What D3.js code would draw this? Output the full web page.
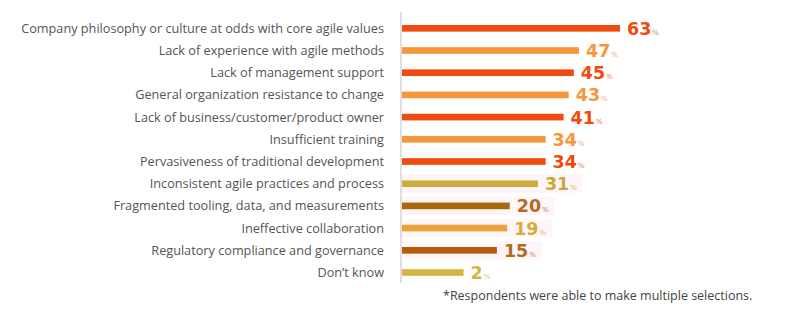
<!DOCTYPE html>
<html><head><meta charset="utf-8">
<script src="https://cdn.jsdelivr.net/npm/d3@7"></script>
<style>
html,body{margin:0;padding:0;background:#fff;}
svg{display:block;}
</style></head>
<body>
<svg id="chart" width="802" height="321"></svg>
<script>
const categories = [
  "Company philosophy or culture at odds with core agile values",
  "Lack of experience with agile methods",
  "Lack of management support",
  "General organization resistance to change",
  "Lack of business/customer/product owner",
  "Insufficient training",
  "Pervasiveness of traditional development",
  "Inconsistent agile practices and process",
  "Fragmented tooling, data, and measurements",
  "Ineffective collaboration",
  "Regulatory compliance and governance",
  "Don\u2019t know"
];
const values = [63, 47, 45, 43, 41, 34, 34, 31, 20, 19, 15, 2];
const barColors = ["#f04b0e","#f7963c","#f04b0e","#f7963c","#f04b0e","#f7963c","#f04b0e","#cdac3c","#a8680c","#eaa43a","#b45c0e","#d6b442"];
const labelColors = ["#f04b0e","#f7963c","#f04b0e","#f7963c","#f04b0e","#f7963c","#f04b0e","#c9a838","#b8681a","#d8aa3a","#b06a18","#d6b442"];
const highlighted = [false,false,false,false,false,false,false,true,true,true,true,false];
const footnote = "*Respondents were able to make multiple selections.";

const svg = d3.select("#chart");
const x = d3.scaleLinear().domain([-22, 63]).range([402, 620]);
const y = d3.scaleBand().domain(categories).range([17.2, 283.6]).paddingInner(0.7).paddingOuter(0.35);

// faint highlight bands
svg.selectAll("rect.hl").data(categories.filter((c,i)=>highlighted[i])).enter()
  .append("rect").attr("class","hl")
  .attr("x", 400).attr("width", d => x(values[categories.indexOf(d)]) + 45 - 400)
  .attr("y", d => y(d) + y.bandwidth()/2 - 9).attr("height", 18)
  .attr("fill", "#fef5f9");

// axis line
svg.append("line").attr("x1",401).attr("x2",401).attr("y1",12).attr("y2",283)
  .attr("stroke","#d8d4d4").attr("stroke-width",1.5);

// category labels
svg.selectAll("text.cat").data(categories).enter().append("text").attr("class","cat")
  .attr("x", 384).attr("y", d => y(d) + y.bandwidth()/2)
  .attr("dy","0.36em").attr("text-anchor","end")
  .attr("font-family","'Open Sans', sans-serif").attr("font-size",12.7)
  .attr("fill","#555").text(d => d);

// bars
svg.selectAll("rect.bar").data(categories).enter().append("rect").attr("class","bar")
  .attr("x", x(-22)).attr("y", d => y(d))
  .attr("width", (d,i) => x(values[i]) - x(-22)).attr("height", y.bandwidth())
  .attr("fill", (d,i) => barColors[i]);

// value labels
const vl = svg.selectAll("text.val").data(categories).enter().append("text").attr("class","val")
  .attr("x", (d,i) => x(values[i]) + 7).attr("y", d => y(d) + y.bandwidth()/2)
  .attr("dy","0.4em")
  .attr("font-family","'DejaVu Sans', sans-serif").attr("font-weight",700)
  .attr("fill", (d,i) => labelColors[i]);
vl.append("tspan").attr("font-size",17.5).text((d,i) => values[i]);
vl.append("tspan").attr("font-size",7).attr("font-weight",400).attr("dx",1).attr("opacity",0.8).text("%");

svg.append("text").attr("x",443).attr("y",300)
  .attr("font-family","'Open Sans', sans-serif").attr("font-size",12.5)
  .attr("fill","#444").text(footnote);
</script>
</body></html>
